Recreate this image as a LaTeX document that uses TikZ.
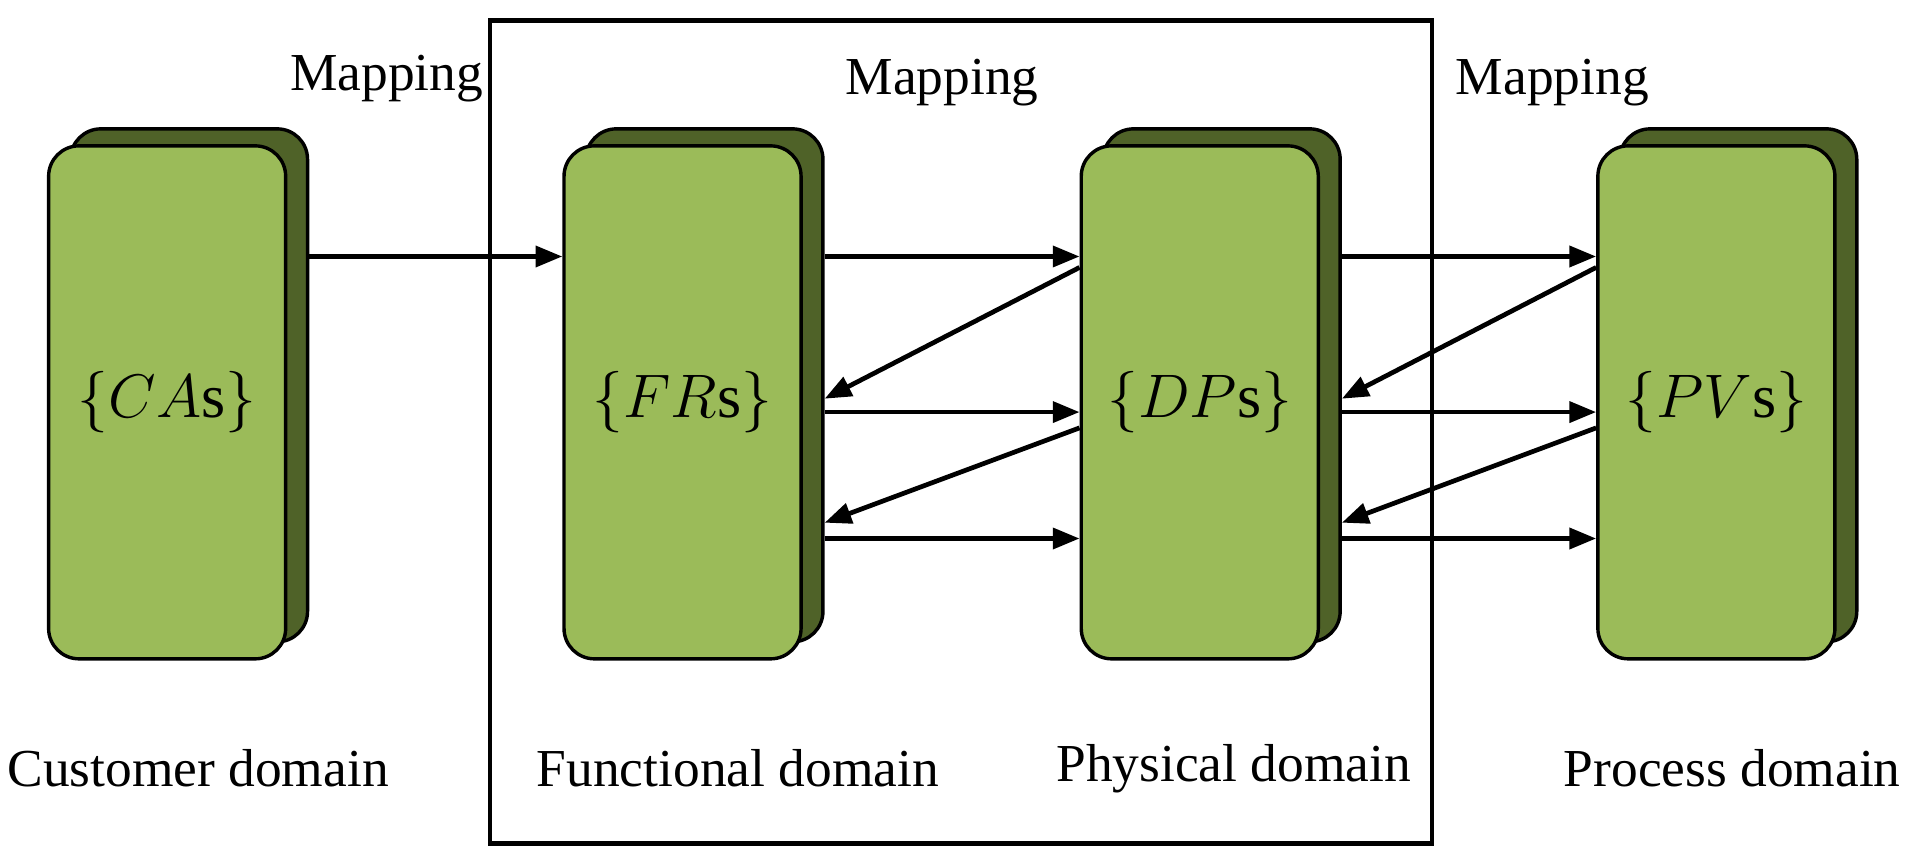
\documentclass[tikz,border=0pt]{standalone}
\usepackage{fontspec}
\setmainfont{Liberation Serif}
\usepackage{tikz}
\usetikzlibrary{arrows.meta,calc}
\definecolor{colorFront}{HTML}{9BBB59}
\definecolor{colorBack}{HTML}{4F6228}
\newcommand\boxW{1.95}
\newcommand\boxH{4.22}
\newcommand\shadowX{0.18}
\newcommand\shadowY{0.14}
\tikzset{
	front/.style={draw=black, line width=0.8pt, fill=colorFront, rounded corners=0.25cm,
		minimum width=\boxW cm, minimum height=\boxH cm, inner sep=0pt},
	back/.style={front, fill=colorBack},
	arr/.style={line width=1.1pt, -{Triangle[length=0.22cm,width=0.17cm]}},
	lbl/.style={font=\fontsize{12.5}{14}\selectfont, inner sep=0pt}
}
\newcommand\drawDomain[3]{
	\node[back] (#1s) at ($(#2)+(\shadowX,\shadowY)$) {};
	\node[front] (#1) at (#2) {};
	\node[lbl, font=\fontsize{14.5}{16}\selectfont] at (#1) {#3};
}

\begin{document}
\begin{tikzpicture}
	\useasboundingbox (0,0) rectangle (15.68,7.12);
	\draw[line width=1.1pt] (4.03,0.18) rectangle (11.78,6.95);
	
	\drawDomain{ca}{1.375,3.81}{$\{CA\mathrm{s}\}$}
	\drawDomain{fr}{5.615,3.81}{$\{FR\mathrm{s}\}$}
	\drawDomain{dp}{9.87,3.81}{$\{DP\mathrm{s}\}$}
	\drawDomain{pv}{14.12,3.81}{$\{PV\mathrm{s}\}$}
	
	\node[lbl] at (3.18,6.47) {Mapping};
	\node[lbl] at (7.75,6.44) {Mapping};
	\node[lbl] at (12.77,6.44) {Mapping};
	
	\node[lbl] at (1.63,0.80) {Customer domain};
	\node[lbl] at (6.07,0.80) {Functional domain};
	\node[lbl] at (10.15,0.80) {Physical domain};
	\node[lbl] at (14.25,0.80) {Process domain};
	
	% forward mappings
	\draw[arr] ($(ca.east)+(\shadowX,1.20)$) -- ($(fr.west)+(0,1.20)$);
	\foreach \dy in {1.20,-0.08,-1.12}{
		\draw[arr] ($(fr.east)+(\shadowX,\dy)$) -- ($(dp.west)+(0,\dy)$);
		\draw[arr] ($(dp.east)+(\shadowX,\dy)$) -- ($(pv.west)+(0,\dy)$);
	}
	% back mappings
	\foreach \a/\b in {1.11/0.03,-0.21/-0.99}{
		\draw[arr] ($(dp.west)+(0,\a)$) -- ($(fr.east)+(\shadowX,\b)$);
		\draw[arr] ($(pv.west)+(0,\a)$) -- ($(dp.east)+(\shadowX,\b)$);
	}
\end{tikzpicture}
\end{document}
